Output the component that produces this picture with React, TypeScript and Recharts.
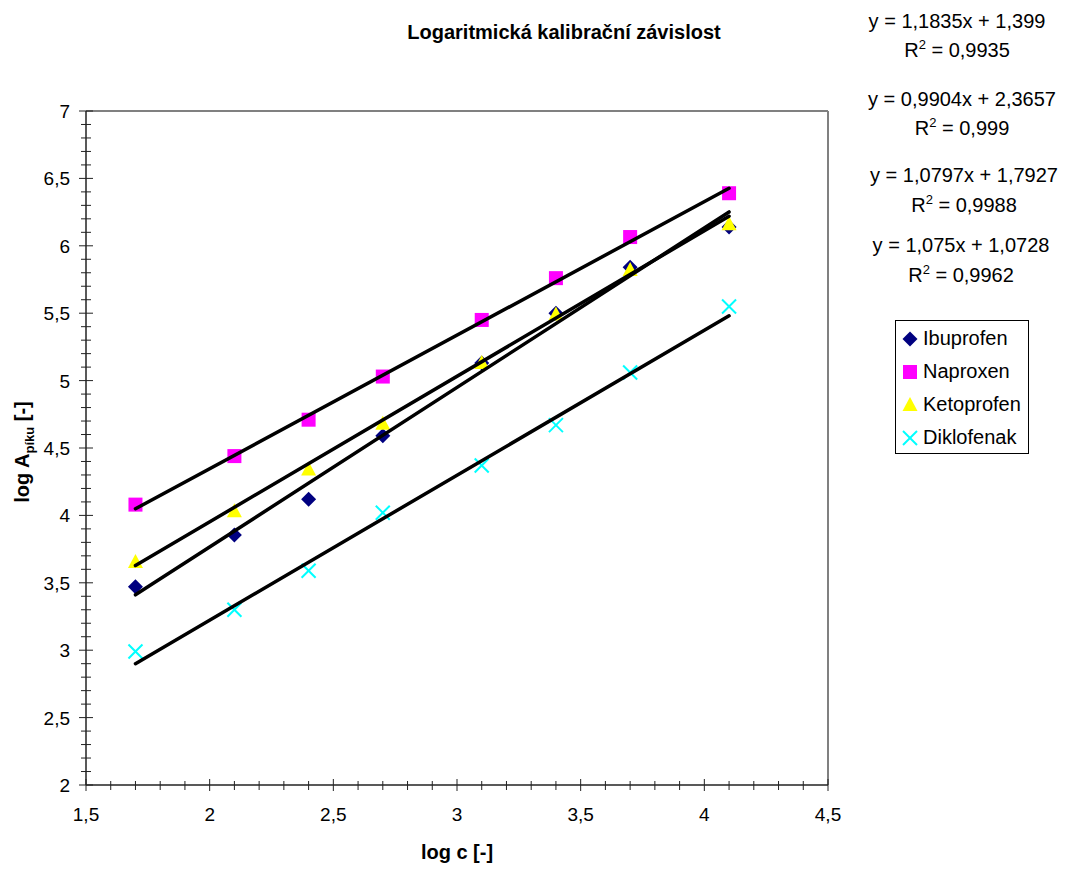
import React from 'react'
import { ScatterChart, Scatter, XAxis, YAxis, ReferenceLine, Legend } from 'recharts'

// log c values shared by all four series
const logC = [1.7, 2.1, 2.4, 2.7, 3.1, 3.4, 3.7, 4.1]

const ibuprofen = [3.47, 3.855, 4.12, 4.59, 5.13, 5.5, 5.84, 6.14]
const naproxen = [4.08, 4.44, 4.71, 5.03, 5.45, 5.76, 6.065, 6.39]
const ketoprofen = [3.655, 4.03, 4.34, 4.68, 5.13, 5.49, 5.82, 6.16]
const diklofenak = [2.99, 3.3, 3.59, 4.02, 4.37, 4.67, 5.06, 5.55]

// linear trend lines (Excel), in the same order as the series
const slopes = [1.1835, 0.9904, 1.0797, 1.075]
const intercepts = [1.399, 2.3657, 1.7927, 1.0728]
const equations = ['y = 1,1835x + 1,399', 'y = 0,9904x + 2,3657', 'y = 1,0797x + 1,7927', 'y = 1,075x + 1,0728']
const rSquared = ['0,9935', '0,999', '0,9988', '0,9962']

const xMajorTicks = [1.5, 2, 2.5, 3, 3.5, 4, 4.5]
const yMajorTicks = [2, 2.5, 3, 3.5, 4, 4.5, 5, 5.5, 6, 6.5, 7]

const FONT = '"Liberation Sans", Arial, sans-serif'

const minorTicks = (from: number, to: number) => {
    const out: number[] = []
    for (let i = Math.round(from * 10); i <= Math.round(to * 10); i++) out.push(i / 10)
    return out
}
const xTicks = minorTicks(1.5, 4.5)
const yTicks = minorTicks(2, 7)

const fmt = (v: number) => String(v).replace('.', ',')
const isMajor = (v: number, majors: number[]) => majors.some(m => Math.abs(m - v) < 1e-6)

const toPoints = (ys: number[]) => logC.map((x, i) => ({ x, y: ys[i] }))

const trend = (i: number) => {
    const x0 = logC[0]
    const x1 = logC[logC.length - 1]
    return [
        { x: x0, y: slopes[i] * x0 + intercepts[i] },
        { x: x1, y: slopes[i] * x1 + intercepts[i] },
    ]
}

const Diamond = ({ cx, cy }: any) => (
    <polygon points={`${cx},${cy - 7.5} ${cx + 7.5},${cy} ${cx},${cy + 7.5} ${cx - 7.5},${cy}`} fill="#000080" />
)
const Square = ({ cx, cy }: any) => <rect x={cx - 7} y={cy - 7} width={14} height={14} fill="#FF00FF" />
const Triangle = ({ cx, cy }: any) => (
    <polygon points={`${cx},${cy - 8} ${cx + 7.5},${cy + 6} ${cx - 7.5},${cy + 6}`} fill="#FFFF00" />
)
const Cross = ({ cx, cy }: any) => (
    <g stroke="#00FFFF" strokeWidth={2}>
        <line x1={cx - 7} y1={cy - 7} x2={cx + 7} y2={cy + 7} />
        <line x1={cx - 7} y1={cy + 7} x2={cx + 7} y2={cy - 7} />
    </g>
)
const NoDot = () => <g />

const series = [
    { name: 'Ibuprofen', values: ibuprofen, Shape: Diamond },
    { name: 'Naproxen', values: naproxen, Shape: Square },
    { name: 'Ketoprofen', values: ketoprofen, Shape: Triangle },
    { name: 'Diklofenak', values: diklofenak, Shape: Cross },
]

// tickSize 6 + tickMargin 2 -> tick props sit 8px off the axis line
const XTick = ({ x, y, payload }: any) => {
    const axisY = y - 8
    const major = isMajor(payload.value, xMajorTicks)
    return (
        <g>
            <line x1={x} x2={x} y1={axisY - (major ? 6 : 4)} y2={axisY + (major ? 6 : 5)} stroke="#222" />
            {major && (
                <text x={x} y={axisY + 36} textAnchor="middle" fontSize={19} fontFamily={FONT} fill="#000">
                    {fmt(payload.value)}
                </text>
            )}
        </g>
    )
}

const YTick = ({ x, y, payload }: any) => {
    const axisX = x + 8
    const major = isMajor(payload.value, yMajorTicks)
    return (
        <g>
            <line x1={axisX - (major ? 7 : 5)} x2={axisX + (major ? 7 : 5)} y1={y} y2={y} stroke="#222" />
            {major && (
                <text x={axisX - 16} y={y + 7} textAnchor="end" fontSize={19} fontFamily={FONT} fill="#000">
                    {fmt(payload.value)}
                </text>
            )}
        </g>
    )
}

const LegendBox = () => (
    <div
        style={{
            width: 134,
            height: 134,
            boxSizing: 'border-box',
            border: '1px solid #000',
            background: '#fff',
            padding: '1px 0 0 0',
            fontFamily: FONT,
            fontSize: 20,
        }}
    >
        {series.map(({ name, Shape }) => (
            <div key={name} style={{ height: 33, display: 'flex', alignItems: 'center' }}>
                <svg width={20} height={20} style={{ marginLeft: 4, marginRight: 3 }}>
                    <Shape cx={10} cy={10} />
                </svg>
                <span>{name}</span>
            </div>
        ))}
    </div>
)

const eqCenters = [
    { x: 957, y: 21, ry: 50 },
    { x: 962, y: 99, ry: 128 },
    { x: 964, y: 175, ry: 205 },
    { x: 961, y: 245, ry: 275 },
]

const App = () => {
    return (
        <div style={{ position: 'absolute', left: 0, top: 0, width: 1069, height: 870, background: '#fff', fontFamily: FONT }}>
            <div style={{ position: 'absolute', left: 364, top: 20, width: 400, textAlign: 'center', fontWeight: 'bold', fontSize: 20, lineHeight: '24px' }}>
                Logaritmická kalibrační závislost
            </div>

            {equations.map((eq, i) => (
                <React.Fragment key={eq}>
                    <div style={{ position: 'absolute', left: eqCenters[i].x - 120, top: eqCenters[i].y - 12, width: 240, textAlign: 'center', fontSize: 20, lineHeight: '24px', whiteSpace: 'nowrap' }}>
                        {eq}
                    </div>
                    <div style={{ position: 'absolute', left: eqCenters[i].x - 120, top: eqCenters[i].ry - 12, width: 240, textAlign: 'center', fontSize: 20, lineHeight: '24px', whiteSpace: 'nowrap' }}>
                        R<sup style={{ fontSize: 13, lineHeight: 0 }}>2</sup> = {rSquared[i]}
                    </div>
                </React.Fragment>
            ))}

            <ScatterChart width={1069} height={870} margin={{ top: 111, right: 241, bottom: 45, left: 26 }}>
                <XAxis
                    type="number"
                    dataKey="x"
                    domain={[1.5, 4.5]}
                    ticks={xTicks}
                    interval={0}
                    height={40}
                    tickSize={6}
                    tickMargin={2}
                    tickLine={false}
                    axisLine={{ stroke: '#222', strokeWidth: 1.5 }}
                    tick={<XTick />}
                    allowDataOverflow
                />
                <YAxis
                    type="number"
                    dataKey="y"
                    domain={[2, 7]}
                    ticks={yTicks}
                    interval={0}
                    width={60}
                    tickSize={6}
                    tickMargin={2}
                    tickLine={false}
                    axisLine={{ stroke: '#222', strokeWidth: 1.5 }}
                    tick={<YTick />}
                    allowDataOverflow
                />
                <ReferenceLine y={7} stroke="#808080" strokeWidth={2} />
                <ReferenceLine x={4.5} stroke="#808080" strokeWidth={2} />
                {series.map(({ name, values, Shape }) => (
                    <Scatter
                        key={name}
                        name={name}
                        data={toPoints(values)}
                        shape={(p: any) => <Shape cx={p.cx} cy={p.cy} />}
                        isAnimationActive={false}
                    />
                ))}
                {series.map(({ name }, i) => (
                    <Scatter
                        key={name + '-trend'}
                        data={trend(i)}
                        line={{ stroke: '#000', strokeWidth: 3.5, strokeLinecap: 'round' }}
                        shape={NoDot}
                        legendType="none"
                        isAnimationActive={false}
                    />
                ))}
                <Legend
                    layout="vertical"
                    align="center"
                    verticalAlign="middle"
                    content={<LegendBox />}
                    wrapperStyle={{ left: 895, top: 320, width: 134, height: 134 }}
                />
            </ScatterChart>

            <div style={{ position: 'absolute', left: 22, top: 452, transform: 'translate(-50%, -50%) rotate(-90deg)', fontWeight: 'bold', fontSize: 20, whiteSpace: 'nowrap', lineHeight: '24px' }}>
                log A<sub style={{ fontSize: 13, lineHeight: 0 }}>píku</sub> [-]
            </div>
            <div style={{ position: 'absolute', left: 357, top: 840, width: 200, textAlign: 'center', fontWeight: 'bold', fontSize: 20, lineHeight: '24px' }}>
                log c [-]
            </div>
        </div>
    )
}

export default App
